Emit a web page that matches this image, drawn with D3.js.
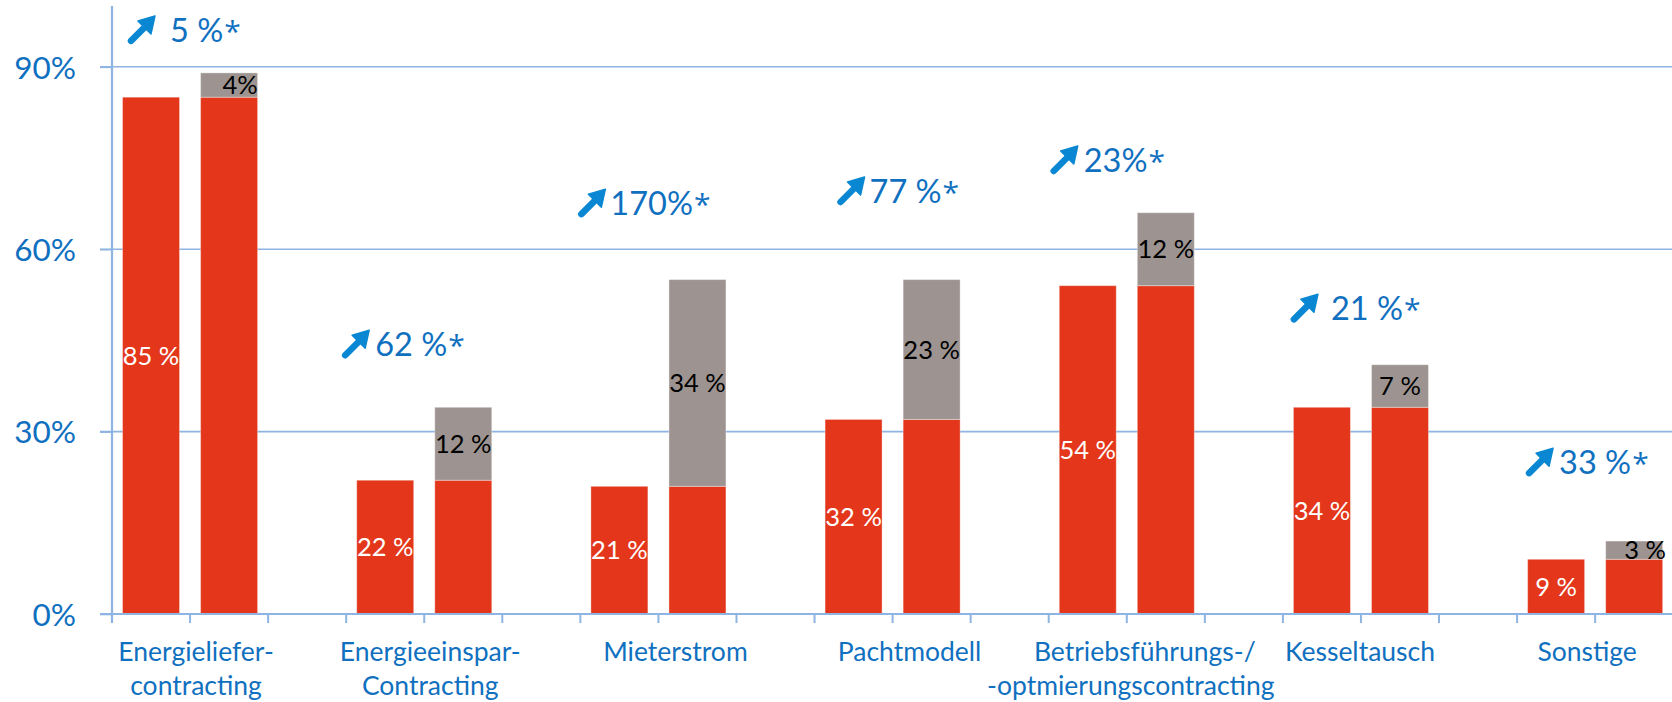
<!DOCTYPE html>
<html>
<head>
<meta charset="utf-8">
<script src="https://cdn.jsdelivr.net/npm/d3@7"></script>
<style>
  html, body { margin: 0; padding: 0; background: #fff; }
  svg { display: block; font-family: "Lato", "Liberation Sans", sans-serif; }
</style>
</head>
<body>
<svg id="chart" width="1672" height="702"></svg>
<script>
// ---------- data ----------
const categories = [
  ["Energieliefer-", "contracting"],
  ["Energieeinspar-", "Contracting"],
  ["Mieterstrom"],
  ["Pachtmodell"],
  ["Betriebsführungs-/", "-optmierungscontracting"],
  ["Kesseltausch"],
  ["Sonstige"]
];
const baseValues  = [85, 22, 21, 32, 54, 34, 9];
const addedValues = [4, 12, 34, 23, 12, 7, 3];
const baseLabels  = ["85 %", "22 %", "21 %", "32 %", "54 %", "34 %", "9 %"];
const addedLabels = ["4%", "12 %", "34 %", "23 %", "12 %", "7 %", "3 %"];
const growthLabels = ["5 %", "62 %", "170%", "77 %", "23%", "21 %", "33 %"];
const growthMark = "*";
const yTickValues = [0, 30, 60, 90];

// ---------- layout (annotation placement, not data) ----------
const growthLevel  = [94.1, 42.4, 65.6, 67.6, 72.7, 48.3, 23.0]; // baseline height in axis units
const growthArrowDx = [16, -4, -2, 23, 2, 8, 9];                 // px from category start
const growthTextDx  = [42, 33, 32, 32, 33, 40, 33];
const labelDx = [[6, 6], [6, 6], [17], [17], [18, 4], [-1], [-8]];

const W = 1672, H = 702;
const left = 112, step = 78.06, slots = 21;
const svg = d3.select("#chart");

const blue = "#1070C0", arrowBlue = "#0A87D2", gridC = "#8DB4E2";
const red = "#E3361A", grey = "#9D9491";

const slot = d3.scaleBand().domain(d3.range(slots)).range([left, left + slots * step]).padding(0);
const y = d3.scaleLinear().domain([0, 100]).range([614, 6]);
const barW = slot.bandwidth() * 0.73;
const catStart = i => slot(i * 3);
const catCenter = i => slot(i * 3) + slot.bandwidth();

// gridlines
svg.append("g").selectAll("line").data(yTickValues.filter(d => d > 0)).join("line")
  .attr("x1", left - 12).attr("x2", W)
  .attr("y1", d => y(d)).attr("y2", d => y(d))
  .attr("stroke", gridC).attr("stroke-width", 1.6);

// y axis
const yAxis = d3.axisLeft(y).tickValues(yTickValues).tickSize(12).tickPadding(24).tickFormat(d => d + "%");
const gy = svg.append("g").attr("transform", `translate(${left},0)`).call(yAxis);
gy.select(".domain").remove();
gy.selectAll(".tick line").attr("stroke", gridC).attr("stroke-width", 1.6);
gy.selectAll(".tick text").attr("fill", blue).attr("font-size", 31.5)
  .attr("font-family", "Lato, 'Liberation Sans', sans-serif").attr("dy", "0.36em");
svg.append("line").attr("x1", left).attr("x2", left).attr("y1", y(100)).attr("y2", y(0) + 9)
  .attr("stroke", gridC).attr("stroke-width", 2.2);

// bars
const gb = svg.append("g");
categories.forEach((c, i) => {
  [0, 1].forEach(s => {
    const x0 = slot(i * 3 + s) + (slot.bandwidth() - barW) / 2;
    gb.append("rect").attr("x", x0).attr("width", barW)
      .attr("y", y(baseValues[i])).attr("height", y(0) - y(baseValues[i]))
      .attr("fill", red).attr("stroke", "rgba(255,255,255,0.35)").attr("stroke-width", 1);
    if (s === 1) {
      const top = baseValues[i] + addedValues[i];
      gb.append("rect").attr("x", x0).attr("width", barW)
        .attr("y", y(top)).attr("height", y(baseValues[i]) - y(top))
        .attr("fill", grey).attr("stroke", "rgba(255,255,255,0.35)").attr("stroke-width", 1);
      const segH = y(baseValues[i]) - y(top);
      gb.append("text").attr("x", x0 + barW / 2 + (segH < 30 ? 11 : 0))
        .attr("y", (y(top) + y(baseValues[i])) / 2).attr("dy", "0.36em")
        .attr("text-anchor", "middle").attr("font-size", 25.5).attr("fill", "#000")
        .text(addedLabels[i]);
    } else {
      gb.append("text").attr("x", x0 + barW / 2)
        .attr("y", (y(baseValues[i]) + y(0)) / 2).attr("dy", "0.36em")
        .attr("text-anchor", "middle").attr("font-size", 25.5).attr("fill", "#fff")
        .text(baseLabels[i]);
    }
  });
});

// x axis line + ticks
svg.append("line").attr("x1", left - 12).attr("x2", W).attr("y1", y(0)).attr("y2", y(0))
  .attr("stroke", gridC).attr("stroke-width", 2.2);
svg.append("g").selectAll("line").data(d3.range(1, slots)).join("line")
  .attr("x1", d => slot(d)).attr("x2", d => slot(d))
  .attr("y1", y(0)).attr("y2", y(0) + 9)
  .attr("stroke", gridC).attr("stroke-width", 2);

// category labels
categories.forEach((lines, i) => {
  lines.forEach((t, k) => {
    svg.append("text").attr("x", catCenter(i) + labelDx[i][k]).attr("y", 661 + k * 34)
      .attr("text-anchor", "middle").attr("font-size", 26.5).attr("fill", blue).text(t);
  });
});

// growth annotations
const ga = svg.append("g");
growthLabels.forEach((t, i) => {
  const bx = catStart(i) + growthArrowDx[i];
  const by = y(growthLevel[i]) + 2;
  const g = ga.append("g").attr("transform", `translate(${bx},${by})`);
  g.append("line").attr("x1", 3).attr("y1", -3).attr("x2", 17).attr("y2", -17)
    .attr("stroke", arrowBlue).attr("stroke-width", 6.5).attr("stroke-linecap", "round");
  g.append("path").attr("d", "M27,-28 L10,-23 L23,-10 Z").attr("fill", arrowBlue)
    .attr("stroke", arrowBlue).attr("stroke-width", 1.5).attr("stroke-linejoin", "round");
  const tx = ga.append("text").attr("x", bx + growthTextDx[i]).attr("y", y(growthLevel[i]))
    .attr("font-size", 32.5).attr("fill", blue).text(t);
  tx.append("tspan").attr("font-family", "'Open Sans', 'DejaVu Sans', sans-serif")
    .attr("font-size", 30).attr("dx", 1).text(growthMark);
});
</script>
</body>
</html>
